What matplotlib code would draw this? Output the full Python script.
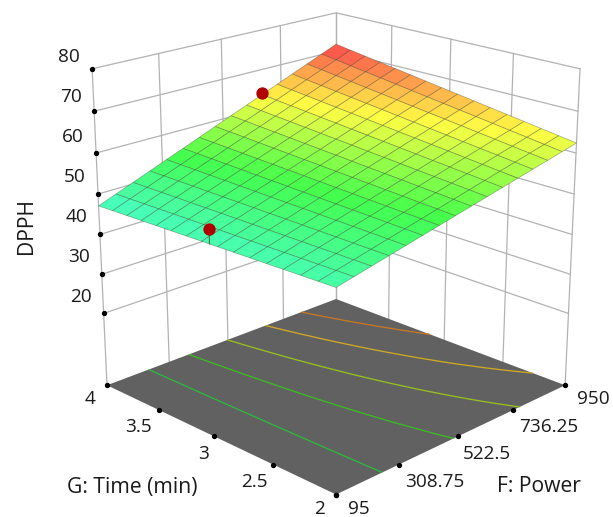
import numpy as np
import matplotlib
matplotlib.use("Agg")
import matplotlib.pyplot as plt
from matplotlib.colors import LinearSegmentedColormap, Normalize

# Axis values
power = [95 + 57 * i for i in range(16)]
time_min = [2 + i * 2 / 15 for i in range(16)]
power_ticks = [95, 308.75, 522.5, 736.25, 950]
time_ticks = [2, 2.5, 3, 3.5, 4]
dpph_ticks = [20, 30, 40, 50, 60, 70, 80]
dpph_floor = 1.25

power_labels = ["95", "308.75", "522.5", "736.25", "950"]
time_labels = ["2", "2.5", "3", "3.5", "4"]

# DPPH, one row per time value (2 to 4 min)
dpph = [
    [48.00, 48.91, 49.83, 50.74, 51.65, 52.57, 53.48, 54.39, 55.31, 56.22, 57.13, 58.05, 58.96, 59.87, 60.79, 61.70],
    [47.89, 48.86, 49.82, 50.78, 51.74, 52.70, 53.67, 54.63, 55.59, 56.55, 57.52, 58.48, 59.44, 60.40, 61.36, 62.33],
    [47.79, 48.80, 49.81, 50.82, 51.83, 52.84, 53.85, 54.86, 55.88, 56.89, 57.90, 58.91, 59.92, 60.93, 61.94, 62.95],
    [47.68, 48.74, 49.80, 50.86, 51.92, 52.98, 54.04, 55.10, 56.16, 57.22, 58.28, 59.34, 60.40, 61.46, 62.52, 63.58],
    [47.57, 48.68, 49.79, 50.90, 52.01, 53.12, 54.23, 55.34, 56.44, 57.55, 58.66, 59.77, 60.88, 61.99, 63.10, 64.21],
    [47.47, 48.62, 49.78, 50.94, 52.10, 53.26, 54.41, 55.57, 56.73, 57.89, 59.04, 60.20, 61.36, 62.52, 63.68, 64.83],
    [47.36, 48.57, 49.77, 50.98, 52.19, 53.39, 54.60, 55.81, 57.01, 58.22, 59.43, 60.63, 61.84, 63.05, 64.25, 65.46],
    [47.25, 48.51, 49.76, 51.02, 52.28, 53.53, 54.79, 56.04, 57.30, 58.55, 59.81, 61.06, 62.32, 63.58, 64.83, 66.09],
    [47.15, 48.45, 49.76, 51.06, 52.36, 53.67, 54.97, 56.28, 57.58, 58.89, 60.19, 61.50, 62.80, 64.10, 65.41, 66.71],
    [47.04, 48.39, 49.75, 51.10, 52.45, 53.81, 55.16, 56.51, 57.87, 59.22, 60.57, 61.93, 63.28, 64.63, 65.99, 67.34],
    [46.93, 48.34, 49.74, 51.14, 52.54, 53.94, 55.35, 56.75, 58.15, 59.55, 60.96, 62.36, 63.76, 65.16, 66.56, 67.97],
    [46.83, 48.28, 49.73, 51.18, 52.63, 54.08, 55.53, 56.98, 58.44, 59.89, 61.34, 62.79, 64.24, 65.69, 67.14, 68.59],
    [46.72, 48.22, 49.72, 51.22, 52.72, 54.22, 55.72, 57.22, 58.72, 60.22, 61.72, 63.22, 64.72, 66.22, 67.72, 69.22],
    [46.61, 48.16, 49.71, 51.26, 52.81, 54.36, 55.91, 57.46, 59.00, 60.55, 62.10, 63.65, 65.20, 66.75, 68.30, 69.85],
    [46.51, 48.10, 49.70, 51.30, 52.90, 54.50, 56.09, 57.69, 59.29, 60.89, 62.48, 64.08, 65.68, 67.28, 68.87, 70.47],
    [46.40, 48.05, 49.69, 51.34, 52.99, 54.63, 56.28, 57.93, 59.57, 61.22, 62.87, 64.51, 66.16, 67.81, 69.45, 71.10],
]
# Correction after comparing the surface height with the wall ticks
dpph_lift = 0.7

# Design points
point_power = [665, 95]
point_time = [4, 3]
point_dpph = [64.0, 51.4]
point_base = [63.6, 47.9]

contour_levels = [51.2, 55.3, 59.4, 63.6, 67.7]
contour_colors = ["#2fb83f", "#3bbd22", "#98bf20", "#cfa825", "#c87825"]

plt.rcParams["font.family"] = ["Open Sans", "DejaVu Sans"]

W, H = 613, 517
fig = plt.figure(figsize=(W / 100, H / 100), dpi=100)
ax = fig.add_axes([46.9 / W, -4.15 / H, 563.1 / W, 563.1 / H], projection="3d", computed_zorder=False)
ax.set_proj_type("persp", focal_length=0.6)
ax.view_init(elev=20, azim=-135)
ax.set_box_aspect((1, 1, 1.007))
ax.set_xlim(95, 950, view_margin=0)
ax.set_ylim(2, 4, view_margin=0)
ax.set_zlim(dpph_floor, 80, view_margin=0)
ax.set_axis_off()
ax.patch.set_alpha(0)

wall = {"color": "#b2b2b2", "lw": 0.9, "zorder": 1}
# Back walls
for f in power_ticks:
    ax.plot([f, f], [4, 4], [dpph_floor, 80], **wall)
for g in time_ticks:
    ax.plot([950, 950], [g, g], [dpph_floor, 80], **wall)
for z in dpph_ticks:
    ax.plot([95, 950], [4, 4], [z, z], **wall)
    ax.plot([950, 950], [2, 4], [z, z], **wall)

# Floor and its contours
ax.plot_surface(np.array([[95, 950], [95, 950]]), np.array([[2, 2], [4, 4]]),
                np.full((2, 2), dpph_floor), color="#616161", shade=False, linewidth=0, zorder=2)
X, Y = np.meshgrid(power, time_min)
Z = np.array(dpph) + dpph_lift
ax.contour(X, Y, Z, levels=contour_levels, colors=contour_colors, linewidths=0.95,
           zdir="z", offset=dpph_floor, zorder=3)

# Response surface
cmap = LinearSegmentedColormap.from_list("dx", [
    (0.0, "#48ffc4"), (0.308, "#44ff4c"), (0.652, "#ffff44"), (0.814, "#ffaa4c"), (0.955, "#ff5a4c"), (1.0, "#ff5a4c")])
ax.plot_surface(X, Y, Z, rstride=1, cstride=1, cmap=cmap, norm=Normalize(47.1, 71.8),
                shade=False, edgecolor=(0.15, 0.18, 0.1, 0.4), linewidth=0.5, zorder=4)

# Design points with short stems
for f, g, z, b in zip(point_power, point_time, point_dpph, point_base):
    ax.plot([f, f], [g, g], [b, z], color="#4a6a4a", lw=0.8, zorder=5)
ax.scatter(point_power, point_time, point_dpph, s=62, color="#b00000", depthshade=False, zorder=6)

# Tick dots
ax.scatter([95] * len(dpph_ticks), [4] * len(dpph_ticks), dpph_ticks, s=8, color="black", depthshade=False, zorder=6)
ax.scatter(power_ticks, [2] * 5, [dpph_floor] * 5, s=8, color="black", depthshade=False, zorder=6)
ax.scatter([95] * 5, time_ticks, [dpph_floor] * 5, s=8, color="black", depthshade=False, zorder=6)


def label(x, y, s, size=13.7, **kw):
    fig.text(x / W, 1 - y / H, s, ha="center", va="center", color="#1a1a1a", fontsize=size, **kw)


# Tick labels, placed by pixel like the reference
for z, x, y in zip(dpph_ticks, [81, 79, 76, 75, 73, 71, 69], [297, 257, 217, 177, 137, 97, 57]):
    label(x, y, str(z))
for s, x, y in zip(time_labels, [319, 254, 204, 139, 90], [509, 482, 454, 427, 399]):
    label(x, y, s)
for s, x, y in zip(power_labels, [359, 435, 487, 549, 593], [509, 482, 454, 427, 399]):
    label(x, y, s)
label(26, 226, "DPPH", size=15.2, rotation=90)
label(132.5, 487, "G: Time (min)", size=15.2)
label(539, 487, "F: Power", size=15.2)

fig.savefig("out.png", dpi=100)
